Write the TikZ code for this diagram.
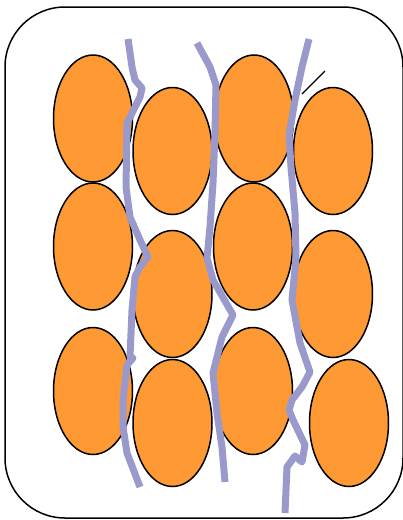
\documentclass[tikz,border=0pt]{standalone}
\usetikzlibrary{shapes.geometric}
\definecolor{grain}{RGB}{255,153,51}
\definecolor{crack}{RGB}{153,153,204}
\tikzset{
  grainnode/.style={ellipse, draw=black, line width=1.5pt, fill=grain, minimum width=79pt, minimum height=127pt, inner sep=0pt},
  crackline/.style={draw=crack, line width=7pt, line join=round},
}
\begin{document}
\begin{tikzpicture}[x=1pt,y=-1pt]
\useasboundingbox (0,0) rectangle (403,520);
\draw[line width=1.5pt, rounded corners=60pt] (5,7) rectangle (403,518);
% grains
\node[grainnode] (e1) at (93,118.5) {};
\node[grainnode] (e2) at (172.5,151) {};
\node[grainnode] (e3) at (254,118.5) {};
\node[grainnode] (e4) at (333,151) {};
\node[grainnode] (e5) at (93,246.5) {};
\node[grainnode] (e6) at (172.5,294) {};
\node[grainnode] (e7) at (253,246.5) {};
\node[grainnode] (e8) at (333,294) {};
\node[grainnode] (e9) at (93,391) {};
\node[grainnode] (e10) at (172.5,423) {};
\node[grainnode] (e11) at (253,391) {};
\node[grainnode] (e12) at (349,423) {};
% small black line
\coordinate (s1) at (325,71);
\coordinate (s2) at (302,94);
\draw[line width=1.3pt] (s1) -- (s2);
% cracks
\draw[crackline] (128,39) -- (132,67) -- (135,80) -- (142,88) -- (140,97) -- (127,123) -- (126,187)
  -- (130,217) -- (140,240) -- (148,257) -- (140,267) -- (135,277) -- (132,310) -- (130,357)
  -- (133,358) -- (127,365) -- (123,400) -- (123,427) -- (127,453) -- (140,487);
\draw[crackline] (197,43) -- (210,67) -- (216,85) -- (215,133) -- (213,183) -- (210,227)
  -- (207,258) -- (213,280) -- (233,315) -- (222,337) -- (213,373) -- (217,413) -- (222,447) -- (225,482);
\draw[crackline] (309,39) -- (302,67) -- (295,100) -- (289,135) -- (291,167) -- (295,213)
  -- (296,258) -- (292,300) -- (300,343) -- (310,372) -- (302,387) -- (292,400) -- (289,410)
  -- (293,420) -- (305,445) -- (302,462) -- (295,456) -- (287,467) -- (285,513);
\end{tikzpicture}
\end{document}
